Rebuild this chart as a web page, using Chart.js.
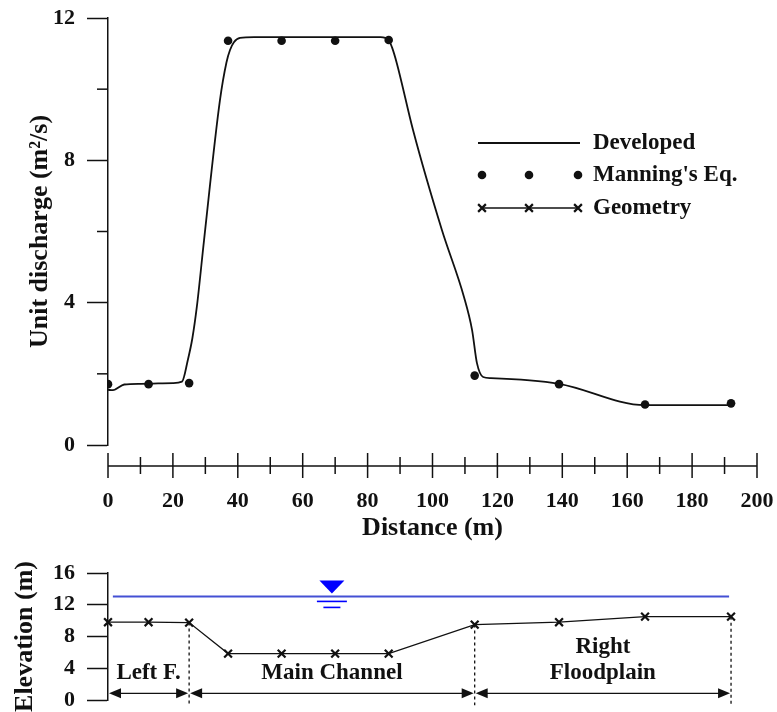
<!DOCTYPE html>
<html>
<head>
<meta charset="utf-8">
<title>Unit discharge and cross section</title>
<script src="https://cdn.jsdelivr.net/npm/chart.js@4.4.0/dist/chart.umd.min.js"></script>
<style>
    html, body { margin: 0; padding: 0; background: #fff; }
    #wrap { position: relative; width: 777px; height: 712px; overflow: hidden; }
    #discharge-chart { position: absolute; left: 0; top: 0; }
    #section-chart { position: absolute; left: 0; top: 545px; }
</style>
</head>
<body>
<div id="wrap">
    <canvas id="discharge-chart" width="777" height="545"></canvas>
    <canvas id="section-chart" width="777" height="167"></canvas>
</div>
<script>
// ---- Data ----
// Survey stations across the section (m)
const stationX = [0, 12.5, 25, 37, 53.5, 70, 86.5, 113, 139, 165.5, 192];
// Manning's equation unit discharge at each station (m2/s)
const manningQ = [1.71, 1.71, 1.74, 11.36, 11.36, 11.36, 11.38, 1.95, 1.71, 1.14, 1.17];
// Developed (smooth) distribution
const developedX = [0, 1.5, 5, 10, 20, 22.8, 24.6, 26, 27.4, 29.6, 34.5, 36.5, 37.6, 38.8, 40.7, 45, 60, 75, 84,
    86.5, 87.5, 89, 94, 102.9, 109.7, 112.2, 113.7, 115.6, 118, 139, 165.5, 175, 192];
const developedQ = [1.55, 1.54, 1.70, 1.72, 1.74, 1.78, 2.39, 3.0, 3.9, 5.76, 9.69, 10.75, 11.1, 11.32, 11.44, 11.46, 11.46, 11.46, 11.46,
    11.38, 11.18, 10.73, 8.85, 6.04, 4.16, 3.23, 2.3, 1.91, 1.88, 1.72, 1.12, 1.12, 1.12];
// Bed elevation at each station (m)
const bedElevation = [9.8, 9.8, 9.75, 5.85, 5.85, 5.85, 5.85, 9.5, 9.8, 10.5, 10.5];
// Water surface
const waterX = [1.5, 191.4];
const waterLevel = [13.05, 13.05];
const waterSymbolX = 69;
// Sub-section boundaries and names
const regionBounds = [0, 25, 113, 192];
const regionNames = [['Left F.'], ['Main Channel'], ['Right', 'Floodplain']];

// Tick labels
const qTickLabels = [0, 4, 8, 12];
const elevTickLabels = [0, 4, 8, 12, 16];
const distTickLabels = [0, 20, 40, 60, 80, 100, 120, 140, 160, 180, 200];

// ---- Shared style ----
const FONT = "'Liberation Serif', 'Times New Roman', serif";
const INK = '#111';
Chart.defaults.font.family = FONT;
Chart.defaults.font.weight = 'bold';
Chart.defaults.color = INK;

function toPoints(xs, ys) {
    return xs.map((x, i) => ({ x: x, y: ys[i] }));
}

function strokeLine(ctx, x1, y1, x2, y2) {
    ctx.beginPath();
    ctx.moveTo(x1, y1);
    ctx.lineTo(x2, y2);
    ctx.stroke();
}

// No extra room for overhanging tick labels: plot area is fixed by layout padding
function noLabelPadding(scale) {
    scale.paddingLeft = 0;
    scale.paddingRight = 0;
    scale.paddingTop = 0;
    scale.paddingBottom = 0;
}

// Minor ticks on the y axis, and the detached distance axis on the top chart
const axisTicks = {
    id: 'axisTicks',
    afterDraw(chart, args, opts) {
        const ctx = chart.ctx;
        const yScale = chart.scales.y;
        const left = chart.chartArea.left;
        ctx.save();
        ctx.strokeStyle = INK;
        ctx.lineWidth = 1.5;
        yScale.ticks.forEach(t => {
            if (opts.yMajor.includes(t.value)) return;
            const py = yScale.getPixelForValue(t.value);
            strokeLine(ctx, left - 11, py, left, py);
        });
        if (opts.detachedX) {
            const xScale = chart.scales.x;
            const y0 = chart.chartArea.bottom + 21;
            strokeLine(ctx, xScale.getPixelForValue(0), y0, xScale.getPixelForValue(200), y0);
            xScale.ticks.forEach(t => {
                const px = xScale.getPixelForValue(t.value);
                const major = opts.xMajor.includes(t.value);
                strokeLine(ctx, px, y0 - (major ? 13 : 9), px, y0 + (major ? 12 : 8));
            });
        }
        ctx.restore();
    }
};

// Hand-made legend (three-symbol samples like the original)
const sampleLegend = {
    id: 'sampleLegend',
    afterDraw(chart) {
        const ctx = chart.ctx;
        const x0 = 482, x1 = 578, textX = 593;
        const rows = [143, 175, 208];
        ctx.save();
        ctx.strokeStyle = INK;
        ctx.fillStyle = INK;
        ctx.font = 'bold 23px ' + FONT;
        ctx.textBaseline = 'middle';

        ctx.lineWidth = 1.8;
        strokeLine(ctx, 478, rows[0], 580, rows[0]);
        ctx.fillText('Developed', textX, rows[0]);

        [x0, 529, x1].forEach(x => {
            Chart.helpers.drawPoint(ctx, { pointStyle: 'circle', radius: 4.3, borderWidth: 0 }, x, rows[1]);
        });
        ctx.fillText("Manning's Eq.", textX, rows[1]);

        ctx.lineWidth = 1.3;
        strokeLine(ctx, x0, rows[2], x1, rows[2]);
        ctx.lineWidth = 2.2;
        [x0, 529, x1].forEach(x => {
            Chart.helpers.drawPoint(ctx, { pointStyle: 'crossRot', radius: 5.5, borderWidth: 2.2 }, x, rows[2]);
        });
        ctx.fillText('Geometry', textX, rows[2]);
        ctx.restore();
    }
};

// Sub-section arrows, dashed boundaries, labels and water-surface symbol
const sectionMarks = {
    id: 'sectionMarks',
    afterDatasetsDraw(chart) {
        const ctx = chart.ctx;
        const xs = chart.scales.x, ys = chart.scales.y;
        const arrowY = ys.getPixelForValue(0.84);
        const dashEnd = ys.getPixelForValue(-0.65);
        ctx.save();
        ctx.strokeStyle = INK;
        ctx.fillStyle = INK;

        // dashed boundaries
        ctx.lineWidth = 1.3;
        ctx.setLineDash([3, 3]);
        regionBounds.slice(1).forEach(b => {
            const i = stationX.indexOf(b);
            const px = xs.getPixelForValue(b);
            strokeLine(ctx, px, ys.getPixelForValue(bedElevation[i]), px, dashEnd);
        });
        ctx.setLineDash([]);

        // arrows
        for (let r = 0; r < regionBounds.length - 1; r++) {
            const a = xs.getPixelForValue(regionBounds[r]);
            const b = xs.getPixelForValue(regionBounds[r + 1]);
            ctx.lineWidth = 1.4;
            strokeLine(ctx, a + 4, arrowY, b - 4, arrowY);
            ctx.beginPath();
            ctx.moveTo(a + 1, arrowY);
            ctx.lineTo(a + 13, arrowY - 5);
            ctx.lineTo(a + 13, arrowY + 5);
            ctx.closePath();
            ctx.fill();
            ctx.beginPath();
            ctx.moveTo(b - 1, arrowY);
            ctx.lineTo(b - 13, arrowY - 5);
            ctx.lineTo(b - 13, arrowY + 5);
            ctx.closePath();
            ctx.fill();

            // region name
            const lines = regionNames[r];
            const cx = (a + b) / 2;
            const baseY = ys.getPixelForValue(3.4);
            ctx.font = 'bold 23px ' + FONT;
            ctx.textAlign = 'center';
            ctx.textBaseline = 'middle';
            lines.forEach((txt, k) => {
                ctx.fillText(txt, cx, baseY - (lines.length - 1 - k) * 26);
            });
        }

        // water surface symbol
        const wx = xs.getPixelForValue(waterSymbolX);
        const wy = ys.getPixelForValue(waterLevel[0]);
        ctx.fillStyle = '#0000ff';
        ctx.strokeStyle = '#0000ff';
        ctx.beginPath();
        ctx.moveTo(wx - 12.5, wy - 16);
        ctx.lineTo(wx + 12.5, wy - 16);
        ctx.lineTo(wx, wy - 3);
        ctx.closePath();
        ctx.fill();
        ctx.lineWidth = 1.6;
        strokeLine(ctx, wx - 15, wy + 5, wx + 15, wy + 5);
        strokeLine(ctx, wx - 8.5, wy + 11, wx + 8.5, wy + 11);
        ctx.restore();
    }
};

function yAxis(min, max, labels, title, titlePad) {
    return {
        type: 'linear',
        min: min,
        max: max,
        afterFit: scale => {
            scale.width = 108;
            noLabelPadding(scale);
        },
        ticks: {
            stepSize: 2,
            padding: 12,
            font: { size: 22 },
            color: INK,
            callback: v => labels.includes(v) ? v : ''
        },
        grid: {
            drawOnChartArea: false,
            drawTicks: true,
            tickLength: 21,
            tickWidth: 1.5,
            tickColor: c => (c.tick && labels.includes(c.tick.value)) ? INK : 'rgba(0,0,0,0)'
        },
        border: { display: true, color: INK, width: 1.5 },
        title: {
            display: true,
            text: title,
            font: { size: 26 },
            color: INK,
            padding: { top: titlePad, bottom: 0 }
        }
    };
}

// ---- Top chart: unit discharge ----
new Chart(document.getElementById('discharge-chart'), {
    type: 'scatter',
    data: {
        datasets: [
            {
                label: 'Developed',
                data: toPoints(developedX, developedQ),
                showLine: true,
                borderColor: INK,
                borderWidth: 1.8,
                pointRadius: 0,
                cubicInterpolationMode: 'monotone',
                order: 2
            },
            {
                label: "Manning's Eq.",
                data: toPoints(stationX, manningQ),
                showLine: false,
                pointStyle: 'circle',
                pointRadius: 4.3,
                pointBackgroundColor: INK,
                pointBorderWidth: 0,
                order: 1
            }
        ]
    },
    options: {
        responsive: false,
        animation: false,
        layout: { padding: { top: 18, right: 20, left: 0, bottom: 0 } },
        plugins: {
            legend: { display: false },
            tooltip: { enabled: false },
            axisTicks: { yMajor: qTickLabels, xMajor: distTickLabels, detachedX: true }
        },
        scales: {
            x: {
                type: 'linear',
                min: 0,
                max: 200,
                afterFit: scale => {
                    scale.height = 100;
                    noLabelPadding(scale);
                },
                ticks: {
                    stepSize: 10,
                    autoSkip: false,
                    maxRotation: 0,
                    padding: 43,
                    font: { size: 22 },
                    color: INK,
                    callback: v => distTickLabels.includes(v) ? v : ''
                },
                grid: { display: false, drawTicks: false },
                border: { display: false },
                title: {
                    display: true,
                    text: 'Distance (m)',
                    font: { size: 26 },
                    color: INK,
                    padding: { top: 0, bottom: 1 }
                }
            },
            y: yAxis(0, 12, qTickLabels, 'Unit discharge (m\u00b2/s)', 25)
        }
    },
    plugins: [axisTicks, sampleLegend]
});

// ---- Bottom chart: cross-section geometry ----
new Chart(document.getElementById('section-chart'), {
    type: 'scatter',
    data: {
        datasets: [
            {
                label: 'Water surface',
                data: toPoints(waterX, waterLevel),
                showLine: true,
                borderColor: '#4450d4',
                borderWidth: 2,
                pointRadius: 0
            },
            {
                label: 'Geometry',
                data: toPoints(stationX, bedElevation),
                showLine: true,
                borderColor: INK,
                borderWidth: 1.3,
                pointStyle: 'crossRot',
                pointRadius: 5.5,
                pointBorderWidth: 2.2,
                pointBorderColor: INK,
                clip: false
            }
        ]
    },
    options: {
        responsive: false,
        animation: false,
        layout: { padding: { top: 28, right: 20, left: 0, bottom: 12 } },
        plugins: {
            legend: { display: false },
            tooltip: { enabled: false },
            axisTicks: { yMajor: elevTickLabels, xMajor: [], detachedX: false }
        },
        scales: {
            x: { type: 'linear', min: 0, max: 200, display: false },
            y: yAxis(0, 16, elevTickLabels, 'Elevation (m)', 10)
        }
    },
    plugins: [axisTicks, sectionMarks]
});
</script>
</body>
</html>
